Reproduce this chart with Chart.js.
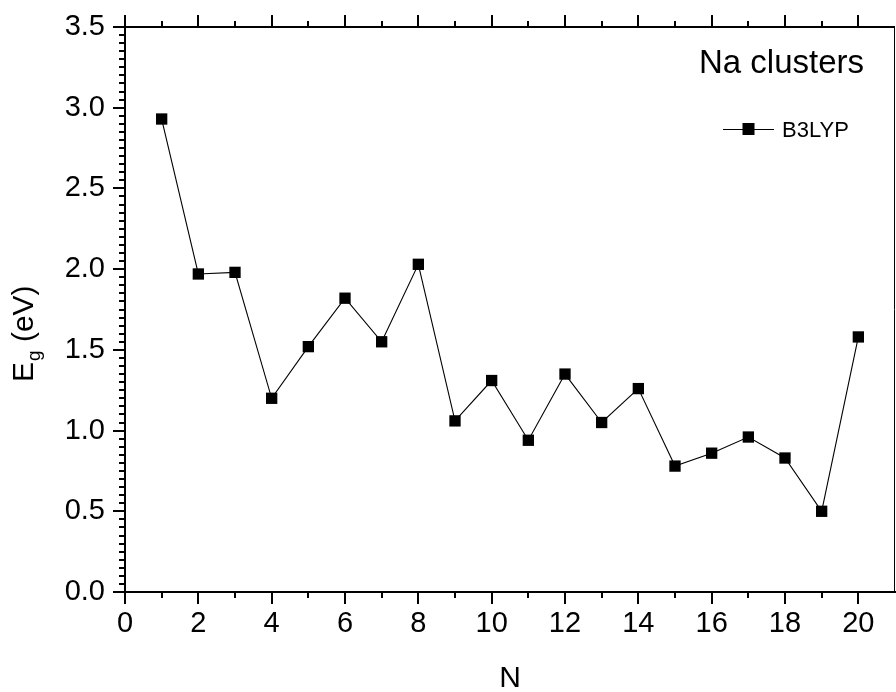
<!DOCTYPE html>
<html>
<head>
<meta charset="utf-8">
<script src="https://cdn.jsdelivr.net/npm/chart.js@4.4.1/dist/chart.umd.min.js"></script>
<style>
  html, body { margin: 0; padding: 0; background: #ffffff; }
  #wrap { width: 896px; height: 692px; }
</style>
</head>
<body>
<div id="wrap"><canvas id="c" width="896" height="692"></canvas></div>
<script>
// Cluster size N and HOMO-LUMO gap (eV) from B3LYP
const clusterSize = [1, 2, 3, 4, 5, 6, 7, 8, 9, 10, 11, 12, 13, 14, 15, 16, 17, 18, 19, 20];
const gapB3LYP = [2.93, 1.97, 1.98, 1.20, 1.52, 1.82, 1.55, 2.03, 1.06, 1.31,
                  0.94, 1.35, 1.05, 1.26, 0.78, 0.86, 0.96, 0.83, 0.50, 1.58];

// Axis tick values
const xMajorTicks = [0, 2, 4, 6, 8, 10, 12, 14, 16, 18, 20];
const xMinorTicks = [1, 3, 5, 7, 9, 11, 13, 15, 17, 19, 21];
const yMajorTicks = [0, 0.5, 1.0, 1.5, 2.0, 2.5, 3.0, 3.5];
const yMinorPerMajor = 10;

const seriesName = 'B3LYP';
const panelLabel = 'Na clusters';
const xTitle = 'N';
const yTitleMain = 'E';
const yTitleSub = 'g';
const yTitleUnit = ' (eV)';

const FONT = '"Liberation Sans", Arial, Helvetica, sans-serif';

// Draws the minor ticks, the top/right frame, legend, panel label and axis titles
const frameDecor = {
  id: 'frameDecor',
  afterDraw(chart) {
    const ctx = chart.ctx;
    const area = chart.chartArea;
    const xs = chart.scales.x;
    const ys = chart.scales.y;
    ctx.save();
    ctx.strokeStyle = '#000';
    ctx.fillStyle = '#000';

    // top frame line
    ctx.lineWidth = 2;
    ctx.beginPath();
    ctx.moveTo(area.left - 1, Math.round(area.top));
    ctx.lineTo(area.right, Math.round(area.top));
    ctx.stroke();
    // right frame line
    ctx.lineWidth = 1;
    ctx.beginPath();
    ctx.moveTo(Math.round(area.right) - 0.5, area.top);
    ctx.lineTo(Math.round(area.right) - 0.5, area.bottom);
    ctx.stroke();

    ctx.lineWidth = 2;
    const top = Math.round(area.top);
    const bottom = Math.round(area.bottom);
    // top axis ticks (major and minor), bottom minor ticks
    ctx.beginPath();
    xMajorTicks.forEach(v => {
      const px = Math.round(xs.getPixelForValue(v));
      ctx.moveTo(px, top); ctx.lineTo(px, top - 12);
    });
    xMinorTicks.forEach(v => {
      const px = Math.round(xs.getPixelForValue(v));
      if (px > area.right - 2) return;
      ctx.moveTo(px, top); ctx.lineTo(px, top - 6);
      ctx.moveTo(px, bottom); ctx.lineTo(px, bottom + 6);
    });
    // left minor ticks
    const left = Math.round(area.left);
    for (let i = 0; i < yMajorTicks.length - 1; i++) {
      const a = yMajorTicks[i], b = yMajorTicks[i + 1];
      for (let k = 1; k < yMinorPerMajor; k++) {
        const v = a + (b - a) * k / yMinorPerMajor;
        const py = Math.round(ys.getPixelForValue(v));
        ctx.moveTo(left, py); ctx.lineTo(left - 6, py);
      }
    }
    ctx.stroke();

    // legend
    const ds = chart.data.datasets[0];
    const ly = 129.5;
    ctx.lineWidth = 1;
    ctx.beginPath();
    ctx.moveTo(723, ly); ctx.lineTo(774, ly);
    ctx.stroke();
    ctx.fillRect(742.5, ly - 6.5, 12, 12);
    ctx.font = '22px ' + FONT;
    ctx.textAlign = 'left';
    ctx.textBaseline = 'alphabetic';
    ctx.fillText(ds.label, 782, 137);

    // panel label
    ctx.font = '33px ' + FONT;
    ctx.textAlign = 'right';
    ctx.fillText(panelLabel, 864, 73);

    // x axis title
    ctx.font = '30px ' + FONT;
    ctx.textAlign = 'center';
    ctx.fillText(xTitle, (area.left + area.right) / 2, 687);

    // y axis title with subscript
    ctx.translate(33, 382);
    ctx.rotate(-Math.PI / 2);
    ctx.textAlign = 'left';
    ctx.font = '30px ' + FONT;
    ctx.fillText(yTitleMain, 0, 0);
    let w = ctx.measureText(yTitleMain).width;
    ctx.font = '19px ' + FONT;
    ctx.fillText(yTitleSub, w + 1, 7);
    w += ctx.measureText(yTitleSub).width + 1;
    ctx.font = '30px ' + FONT;
    ctx.fillText(yTitleUnit, w, 0);
    ctx.restore();
  }
};

new Chart(document.getElementById('c'), {
  type: 'line',
  data: {
    datasets: [{
      label: seriesName,
      data: clusterSize.map((n, i) => ({ x: n, y: gapB3LYP[i] })),
      borderColor: '#000',
      borderWidth: 1.1,
      backgroundColor: '#000',
      pointStyle: 'rect',
      pointRadius: 8,
      pointBorderWidth: 0,
      pointBackgroundColor: '#000',
      tension: 0,
      fill: false
    }]
  },
  options: {
    responsive: false,
    animation: false,
    events: [],
    layout: { autoPadding: false, padding: { top: 27, right: 1, left: 0, bottom: 0 } },
    plugins: {
      legend: { display: false },
      tooltip: { enabled: false },
      title: { display: false }
    },
    scales: {
      x: {
        type: 'linear',
        min: 0,
        max: 21,
        afterBuildTicks: s => { s.ticks = xMajorTicks.map(v => ({ value: v })); },
        afterFit: s => { s.height = 100; s.paddingLeft = 0; s.paddingRight = 0; },
        ticks: {
          color: '#000',
          font: { family: FONT, size: 29 },
          padding: 3,
          autoSkip: false,
          maxRotation: 0,
          callback: v => String(v)
        },
        grid: { drawOnChartArea: false, tickLength: 12, lineWidth: 2, color: '#000' },
        border: { width: 2, color: '#000' }
      },
      y: {
        type: 'linear',
        min: 0,
        max: 3.5,
        afterBuildTicks: s => { s.ticks = yMajorTicks.map(v => ({ value: v })); },
        afterFit: s => { s.width = 125; s.paddingTop = 0; s.paddingBottom = 0; },
        ticks: {
          color: '#000',
          font: { family: FONT, size: 29 },
          padding: 8,
          autoSkip: false,
          callback: v => Number(v).toFixed(1)
        },
        grid: { drawOnChartArea: false, tickLength: 12, lineWidth: 2, color: '#000' },
        border: { width: 2, color: '#000' }
      }
    }
  },
  plugins: [frameDecor]
});
</script>
</body>
</html>
